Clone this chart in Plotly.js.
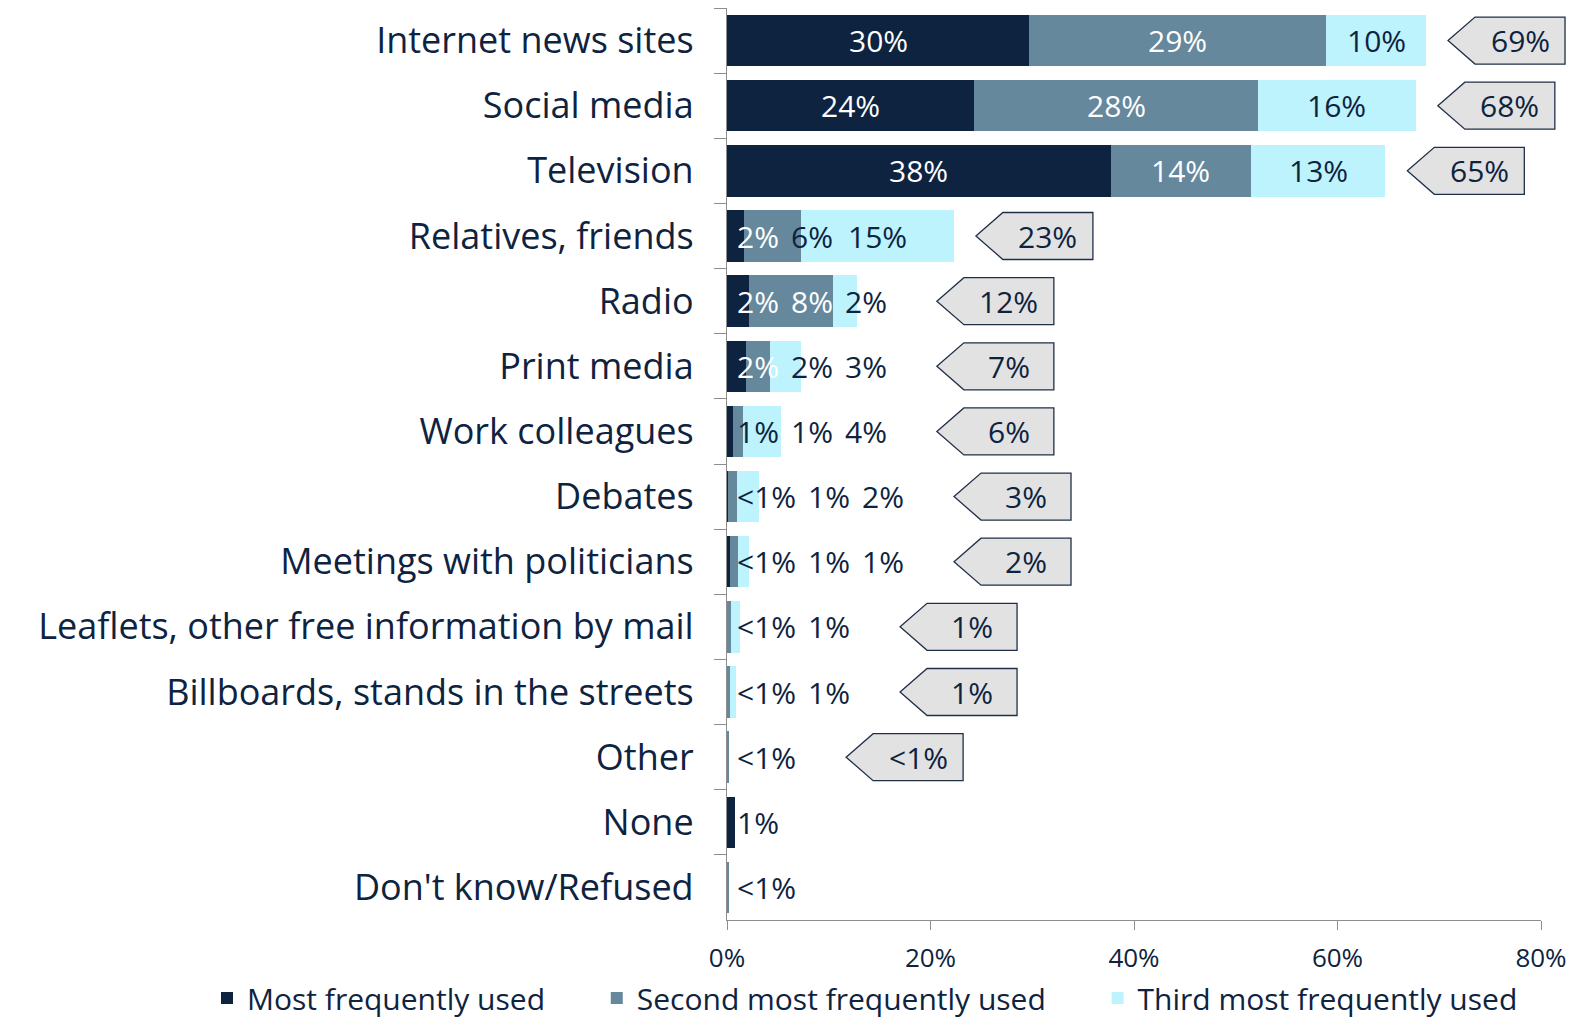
<!DOCTYPE html>
<html>
<head>
<meta charset="utf-8">
<script src="https://cdn.plot.ly/plotly-3.0.1.min.js"></script>
<style>html,body{margin:0;padding:0;background:#fff;}</style>
</head>
<body>
<div id="chart" style="width:1578px;height:1021px;"></div>
<script>
// ---------------- data ----------------
const categories = [
  "Internet news sites", "Social media", "Television", "Relatives, friends", "Radio",
  "Print media", "Work colleagues", "Debates", "Meetings with politicians",
  "Leaflets, other free information by mail", "Billboards, stands in the streets",
  "Other", "None", "Don't know/Refused"
];
const mostUsed   = [29.7, 24.3, 37.7, 1.7, 2.2, 1.9, 0.6, 0.05, 0.33, 0,   0,    0,   0.8, 0];
const secondUsed = [29.2, 27.9, 13.8, 5.6, 8.2, 2.3, 1.0, 0.9,  0.75, 0.4, 0.26, 0.2, 0,   0.1];
const thirdUsed  = [9.8,  15.5, 13.2, 15.0, 2.4, 3.1, 3.7, 2.2, 1.1,  0.9, 0.6,  0,   0,   0];
const mostLabels   = ["30%", "24%", "38%", "2%", "2%", "2%", "1%", "<1%", "<1%", "", "", "", "1%", ""];
const secondLabels = ["29%", "28%", "14%", "6%", "8%", "2%", "1%", "1%", "1%", "<1%", "<1%", "<1%", "", "<1%"];
const thirdLabels  = ["10%", "16%", "13%", "15%", "2%", "3%", "4%", "2%", "1%", "1%", "1%", "", "", ""];
const totalLabels  = ["69%", "68%", "65%", "23%", "12%", "7%", "6%", "3%", "2%", "1%", "1%", "<1%", "", ""];
const seriesNames = ["Most frequently used", "Second most frequently used", "Third most frequently used"];
const xTickValues = [0, 20, 40, 60, 80];
const xTickLabels = ["0%", "20%", "40%", "60%", "80%"];

// ---------------- style ----------------
const NAVY = '#0E2340';
const COLORS = ['#0E2340', '#66889C', '#BDF3FC'];
const AXIS_GRAY = '#8E8E8E';
const FONT = '"Open Sans", sans-serif';
const W = 1578, H = 1021;
const M = {l: 727, r: 37, t: 8, b: 101, autoexpand: false};
const X_MAX = 80;
const plotW = W - M.l - M.r;
const plotH = H - M.t - M.b;
const pxPerUnit = plotW / X_MAX;
const LABEL_SIZE = 30;

const canvas = document.createElement('canvas');
const ctx = canvas.getContext('2d');
function textWidth(s, size) {
  ctx.font = size + 'px "Open Sans"';
  return ctx.measureText(s).width;
}

function build() {
  const series = [mostUsed, secondUsed, thirdUsed];
  const seriesLabels = [mostLabels, secondLabels, thirdLabels];
  const pad = '\u00a0'.repeat(6);

  const traces = series.map((vals, k) => ({
    type: 'bar',
    orientation: 'h',
    x: vals,
    y: categories,
    name: seriesNames[k] + (k < 2 ? pad : ''),
    marker: {color: COLORS[k], line: {width: 0}},
    hoverinfo: 'skip'
  }));

  const annotations = [];
  const shapes = [];

  categories.forEach((cat, i) => {
    let start = 0;
    const segs = [];
    series.forEach((vals, k) => {
      segs.push({a: start * pxPerUnit, b: (start + vals[i]) * pxPerUnit, k: k});
      start += vals[i];
    });
    const barEndPx = start * pxPerUnit;
    let prevRight = null;
    segs.forEach(seg => {
      const txt = seriesLabels[seg.k][i];
      if (!txt) return;
      const w = textWidth(txt, LABEL_SIZE);
      const center = (seg.a + seg.b) / 2;
      let left = center - w / 2;
      left = Math.max(left, prevRight === null ? 10 : prevRight + 12);
      const c = left + w / 2;
      prevRight = left + w;
      let onDark = false;
      segs.forEach(s => { if (s.k < 2 && s.b > s.a && c >= s.a && c <= s.b) onDark = true; });
      annotations.push({
        x: c / pxPerUnit, y: i, xref: 'x', yref: 'y',
        text: txt, showarrow: false, xanchor: 'center', yanchor: 'middle',
        font: {family: FONT, size: LABEL_SIZE, color: onDark ? '#FFFFFF' : NAVY}
      });
    });

    if (totalLabels[i]) {
      let tip = barEndPx + 22;
      if (prevRight !== null && prevRight > barEndPx) tip = Math.max(tip, prevRight + 50);
      const tipPaper = tip / plotW;
      shapes.push({
        type: 'path', xref: 'paper', yref: 'y',
        xsizemode: 'pixel', ysizemode: 'pixel',
        xanchor: tipPaper, yanchor: i,
        path: 'M0,0 L27,23.5 L117,23.5 L117,-23.5 L27,-23.5 Z',
        fillcolor: '#E2E2E2',
        line: {color: '#1F3047', width: 1.3},
        layer: 'above'
      });
      annotations.push({
        x: tipPaper, y: i, xref: 'paper', yref: 'y', xshift: 72,
        text: totalLabels[i], showarrow: false, xanchor: 'center', yanchor: 'middle',
        font: {family: FONT, size: LABEL_SIZE, color: NAVY}
      });
    }
  });

  const layout = {
    width: W, height: H,
    margin: M,
    paper_bgcolor: '#FFFFFF', plot_bgcolor: '#FFFFFF',
    barmode: 'stack',
    bargap: 0.21,
    showlegend: true,
    legend: {
      orientation: 'h',
      xref: 'paper', yref: 'paper',
      x: (207 - M.l) / plotW, xanchor: 'left',
      y: (plotH + M.t - 998) / plotH, yanchor: 'middle',
      bgcolor: 'rgba(0,0,0,0)',
      borderwidth: 0,
      font: {family: FONT, size: 30, color: NAVY},
      traceorder: 'normal',
      itemclick: false, itemdoubleclick: false
    },
    xaxis: {
      range: [0, X_MAX],
      tickmode: 'array',
      tickvals: xTickValues,
      ticktext: xTickLabels,
      showgrid: false, zeroline: false,
      showline: true, linecolor: AXIS_GRAY, linewidth: 1.3,
      ticks: 'outside', ticklen: 9, tickcolor: AXIS_GRAY, tickwidth: 1.3,
      tickfont: {family: FONT, size: 26, color: NAVY},
      ticklabelstandoff: 6,
      fixedrange: true
    },
    yaxis: {
      type: 'category',
      categoryorder: 'array', categoryarray: categories,
      autorange: 'reversed',
      showgrid: false, zeroline: false,
      showline: true, linecolor: AXIS_GRAY, linewidth: 1.3,
      ticks: 'outside', tickson: 'boundaries', ticklen: 12, tickcolor: AXIS_GRAY, tickwidth: 1.3,
      tickfont: {family: FONT, size: 36, color: NAVY},
      ticklabelstandoff: 25,
      fixedrange: true
    },
    annotations: annotations,
    shapes: shapes
  };

  Plotly.newPlot('chart', traces, layout, {displayModeBar: false, responsive: false});
}

if (document.fonts && document.fonts.load) {
  Promise.all([
    document.fonts.load('30px "Open Sans"'),
    document.fonts.load('36px "Open Sans"')
  ]).then(build, build);
} else {
  build();
}
</script>
</body>
</html>
